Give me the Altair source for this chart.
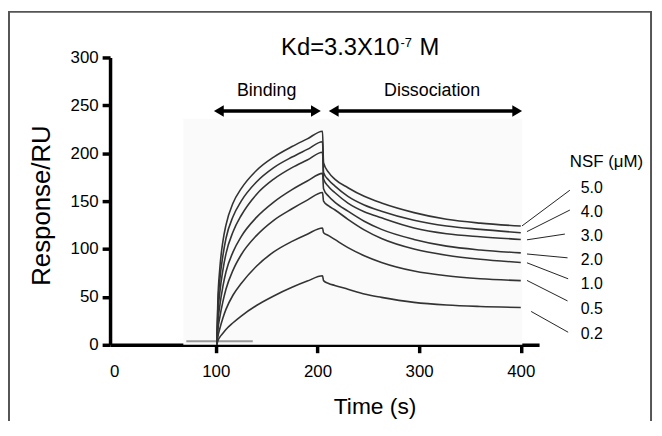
import altair as alt
import pandas as pd

FONT = "Liberation Sans"

# ---- data ----
concs = ["5.0", "4.0", "3.0", "2.0", "1.0", "0.5", "0.2"]
assoc_t = [101, 102, 104, 107, 110, 117, 125, 140, 157, 175, 190, 205]
dissoc_t = [206, 211, 217, 230, 246, 263, 295, 327, 360, 400]

assoc_v = {
    "5.0": [0, 45, 80, 108, 125, 148, 163, 182, 196, 207, 215, 223],
    "4.0": [0, 38, 68, 93, 111, 134, 150, 170, 185, 196, 204, 212],
    "3.0": [0, 30, 55, 78, 95, 118, 135, 157, 173, 185, 193, 201],
    "2.0": [0, 22, 41, 61, 76, 97, 113, 133, 149, 162, 171, 179],
    "1.0": [0, 15, 29, 45, 58, 78, 94, 114, 130, 142, 151, 159],
    "0.5": [0, 8, 17, 28, 37, 52, 64, 82, 97, 108, 115.5, 122],
    "0.2": [0, 4, 8, 12, 16, 23, 30, 41, 51, 60, 66.5, 72],
}
dissoc_v = {
    "5.0": [190, 180, 173, 164, 155, 148, 138, 131, 127, 124],
    "4.0": [180, 172, 166, 155, 146, 139.5, 130, 124, 120.5, 117],
    "3.0": [173, 165, 159, 148, 139, 132.6, 122, 116, 112.8, 110],
    "2.0": [163, 155, 149, 139.5, 129, 120.5, 110, 103, 99, 96],
    "1.0": [150, 145, 141, 131, 120, 111, 100, 93.5, 89.3, 86],
    "0.5": [117, 114, 110, 101.4, 93, 86, 77, 72, 69, 67],
    "0.2": [67, 64, 62, 58, 53, 49.5, 44.3, 41.5, 40, 39],
}

# legend labels (right side) and leader lines
label_t = 459
label_v = [163.4, 138.6, 113.8, 89, 63.1, 37.2, 11.4]
leader_t0 = [401.2, 406.1, 406.1, 406.1, 406.1, 406.1, 410.2]
leader_v0 = [124.1, 118.2, 109.6, 94.8, 85.6, 67.2, 34.8]
leader_t1 = [448.3, 448.3, 443.4, 446.0, 446.6, 446.0, 446.6]
leader_v1 = [161.4, 140.7, 115.6, 90.8, 68.9, 45.8, 13.1]

x_ticks = [0, 100, 200, 300, 400]
y_ticks = [0, 50, 100, 150, 200, 250, 300]

# ---- tables ----
rows = []
for c in concs:
    for i, (t, v) in enumerate(zip(assoc_t + dissoc_t, assoc_v[c] + dissoc_v[c])):
        rows.append({"conc": c, "t": t, "v": v, "order": i})
curves = pd.DataFrame(rows)

labels = pd.DataFrame({"text": concs, "t": [label_t] * 7, "v": label_v})
leaders = pd.DataFrame({"conc": concs, "t": leader_t0, "v": leader_v0,
                        "t2": leader_t1, "v2": leader_v1})

xs = alt.Scale(domain=[-4, 418], nice=False, zero=False)
ys = alt.Scale(domain=[0, 300], nice=False)

black = "#000000"

x_axis = alt.Axis(
    values=x_ticks, title="Time (s)", titleFont=FONT, titleFontSize=23,
    titleFontWeight="normal", titleColor=black, titleX=267, titleY=62,
    titleAlign="center", titleBaseline="middle",
    labelFont=FONT, labelFontSize=17, labelColor=black, labelPadding=11,
    tickSize=8, tickWidth=3.5, tickColor=black,
    tickOpacity=alt.condition("datum.value == 0", alt.value(0), alt.value(1)),
    domainColor=black, domainWidth=3.5, grid=False, labelFlush=False,
)
y_axis = alt.Axis(
    values=y_ticks, title="Response/RU", titleFont=FONT, titleFontSize=26,
    titleFontWeight="normal", titleColor=black, titleX=-69, titleY=149,
    titleAngle=270, titleAlign="center", titleBaseline="middle",
    labelFont=FONT, labelFontSize=17, labelColor=black, labelPadding=4,
    tickSize=8, tickWidth=3.5, tickColor=black,
    domainColor=black, domainWidth=3.5, grid=False, labelFlush=False,
)

X = alt.X("t:Q", scale=xs, axis=x_axis)
Y = alt.Y("v:Q", scale=ys, axis=y_axis)

one = pd.DataFrame({"a": [0]})

frame = alt.Chart(one).mark_rect(fill=None, stroke="#555555", strokeWidth=2).encode(
    x=alt.value(-102), x2=alt.value(546), y=alt.value(-46), y2=alt.value(420)
)

bg = alt.Chart(pd.DataFrame({"t": [68.1], "t2": [401.5], "v": [0], "v2": [235.9]})).mark_rect(
    color="#fafafa"
).encode(x=X, x2="t2:Q", y=Y, y2="v2:Q")

baseline = alt.Chart(pd.DataFrame({"t": [71, 136.4], "v": [3.8, 3.8]})).mark_line(
    color="#999999", strokeWidth=2
).encode(x=X, y=Y)

lines = alt.Chart(curves).mark_line(color="#333333", strokeWidth=1.6, interpolate="monotone").encode(
    x=X, y=Y, detail="conc:N", order="order:Q",
)

leader = alt.Chart(leaders).mark_rule(color="#222222", strokeWidth=1).encode(
    x=X, x2="t2:Q", y=Y, y2="v2:Q",
)

lab = alt.Chart(labels).mark_text(align="left", baseline="middle", font=FONT, fontSize=16, color=black).encode(
    x=X, y=Y, text="text:N"
)

nsf = alt.Chart(pd.DataFrame({"t": [448.3], "v": [190.6], "text": ["NSF (\u03bcM)"]})).mark_text(
    align="left", baseline="middle", font=FONT, fontSize=17, color=black
).encode(x=X, y=Y, text="text:N")

# arrows
arrow_v = 244.1
arr = pd.DataFrame({"t": [104.0, 217.0], "t2": [198.0, 395.5], "v": [arrow_v, arrow_v]})
arrow_lines = alt.Chart(arr).mark_rule(color=black, strokeWidth=3.5).encode(
    x=X, x2="t2:Q", y=Y
)
heads = pd.DataFrame({
    "t": [103.0, 198.5, 216.0, 396.5],
    "v": [arrow_v] * 4,
    "shape": ["triangle-left", "triangle-right", "triangle-left", "triangle-right"],
})
arrow_heads = alt.Chart(heads).mark_point(filled=True, color=black, opacity=1, size=130).encode(
    x=X, y=Y, shape=alt.Shape("shape:N", scale=None),
)

phase = pd.DataFrame({"t": [150.0, 312.8], "v": [264.8, 264.8], "text": ["Binding", "Dissociation"]})
phase_txt = alt.Chart(phase).mark_text(align="center", baseline="middle", font=FONT, fontSize=18, color=black).encode(
    x=X, y=Y, text="text:N"
)

title_main = alt.Chart(pd.DataFrame({"t": [280.6], "v": [310.3], "text": ["Kd=3.3X10"]})).mark_text(
    align="right", baseline="middle", font=FONT, fontSize=24, color=black
).encode(x=X, y=Y, text="text:N")
title_sup = alt.Chart(pd.DataFrame({"t": [281.6], "v": [314.6], "text": ["-7"]})).mark_text(
    align="left", baseline="middle", font=FONT, fontSize=13, color=black
).encode(x=X, y=Y, text="text:N")
title_m = alt.Chart(pd.DataFrame({"t": [300.5], "v": [310.3], "text": ["M"]})).mark_text(
    align="left", baseline="middle", font=FONT, fontSize=24, color=black
).encode(x=X, y=Y, text="text:N")

chart = alt.layer(
    bg, baseline, lines, leader, lab, nsf, arrow_lines, arrow_heads, phase_txt,
    title_main, title_sup, title_m, frame,
).properties(
    width=433, height=290,
    padding={"left": 103, "top": 48, "right": 116, "bottom": 75},
    autosize=alt.AutoSizeParams(type="none"),
    background="white",
).configure_view(stroke=None)

chart.save("out.html", embed_options={"renderer": "svg", "actions": False})
